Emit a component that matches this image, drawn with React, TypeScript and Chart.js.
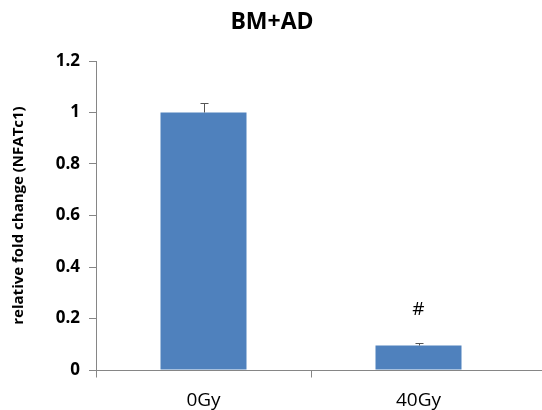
import React, { useEffect, useRef } from "react";
import { Chart, registerables } from "chart.js";

Chart.register(...registerables);

const categories = ["0Gy", "40Gy"];
const foldChange = [1.0, 0.095];
const errorUpper = [0.035, 0.008];
const markers = ["", "#"];
const markerLevel = [0, 0.235];
const yTicks = [0, 0.2, 0.4, 0.6, 0.8, 1, 1.2];

const FONT = "'Open Sans', Lato, sans-serif";
const AXIS_GRAY = "#868686";
const BAR_BLUE = "#4f81bd";

const overlayPlugin = {
  id: "overlay",
  afterDatasetsDraw(chart: any) {
    const { ctx, scales, chartArea } = chart;
    const x = scales.x;
    const y = scales.y;
    const zeroY = Math.round(y.getPixelForValue(0)) + 0.5;
    const half = (x.getPixelForValue(1) - x.getPixelForValue(0)) / 2;
    ctx.save();
    ctx.strokeStyle = AXIS_GRAY;
    ctx.lineWidth = 1;
    ctx.lineCap = "butt";
    // category axis line, running on to the right edge of the canvas
    ctx.beginPath();
    ctx.moveTo(Math.round(chartArea.left), zeroY);
    ctx.lineTo(chart.width, zeroY);
    ctx.stroke();
    // tick marks at the left edge of each category
    ctx.beginPath();
    for (let i = 0; i < categories.length; i++) {
      const px = Math.round(x.getPixelForValue(i) - half) + 0.5;
      ctx.moveTo(px, zeroY);
      ctx.lineTo(px, zeroY + 7);
    }
    ctx.stroke();

    // upper error bars
    ctx.strokeStyle = "#555555";
    foldChange.forEach((v, i) => {
      const cx = Math.round(x.getPixelForValue(i)) + 0.5;
      const top = y.getPixelForValue(v + errorUpper[i]);
      const base = y.getPixelForValue(v);
      ctx.beginPath();
      ctx.moveTo(cx, base);
      ctx.lineTo(cx, top);
      ctx.moveTo(cx - 4, Math.round(top) + 0.5);
      ctx.lineTo(cx + 4, Math.round(top) + 0.5);
      ctx.stroke();
    });

    // significance markers
    ctx.fillStyle = "#000";
    ctx.font = `19px ${FONT}`;
    ctx.textAlign = "center";
    ctx.textBaseline = "middle";
    markers.forEach((m, i) => {
      if (!m) return;
      ctx.fillText(m, x.getPixelForValue(i), y.getPixelForValue(markerLevel[i]));
    });

    // chart title
    ctx.font = `bold 23px ${FONT}`;
    ctx.fillText("BM+AD", 272, 22);
    ctx.restore();
  },
};

export default function App() {
  const ref = useRef<HTMLCanvasElement | null>(null);

  useEffect(() => {
    if (!ref.current) return;
    const chart = new Chart(ref.current, {
      type: "bar",
      data: {
        labels: categories,
        datasets: [
          {
            data: foldChange,
            backgroundColor: BAR_BLUE,
            borderWidth: 0,
            categoryPercentage: 0.8,
            barPercentage: 0.5,
          },
        ],
      },
      options: {
        animation: false,
        responsive: true,
        maintainAspectRatio: false,
        layout: { padding: { top: 61, right: 16, left: 0, bottom: 0 } },
        plugins: {
          legend: { display: false },
          title: { display: false },
          tooltip: { enabled: false },
        },
        scales: {
          x: {
            grid: { display: false },
            border: { display: false },
            ticks: {
              color: "#000",
              font: { family: FONT, size: 19 },
              padding: 11,
            },
            afterFit(scale: any) {
              scale.height = 40;
            },
          },
          y: {
            min: 0,
            max: 1.2,
            afterBuildTicks(scale: any) {
              scale.ticks = yTicks.map((v) => ({ value: v }));
            },
            grid: {
              drawOnChartArea: false,
              drawTicks: true,
              tickLength: 7,
              color: AXIS_GRAY,
            },
            border: { color: AXIS_GRAY },
            ticks: {
              color: "#000",
              font: { family: FONT, size: 17, weight: "bold" },
              padding: 9,
              callback: (v: any) => String(Math.round(Number(v) * 10) / 10),
            },
            title: {
              display: true,
              text: "relative fold change (NFATc1)",
              color: "#000",
              font: { family: FONT, size: 15, weight: "bold" },
              padding: { top: 10, bottom: 0 },
            },
            afterFit(scale: any) {
              scale.width = 96;
            },
          },
        },
      },
      plugins: [overlayPlugin],
    });
    return () => chart.destroy();
  }, []);

  return (
    <div style={{ position: "fixed", left: 0, top: 0, width: 542, height: 410, background: "#fff" }}>
      <canvas ref={ref} />
    </div>
  );
}
